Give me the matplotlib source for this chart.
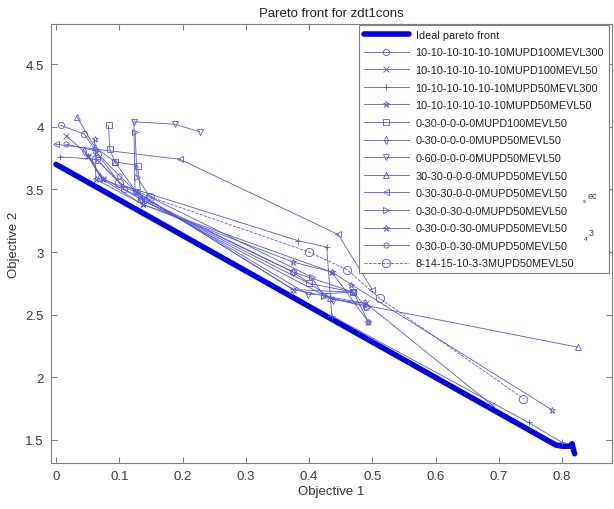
import matplotlib
matplotlib.use("Agg")
import matplotlib.pyplot as plt

plt.rcParams['font.family'] = ['Liberation Sans', 'DejaVu Sans']

# Ideal Pareto front
front_x = [0.0, 0.79, 0.80, 0.812, 0.816, 0.818, 0.82]
front_y = [3.70, 1.46, 1.45, 1.45, 1.47, 1.42, 1.39]

labels = [
    "10-10-10-10-10-10MUPD100MEVL300",
    "10-10-10-10-10-10MUPD100MEVL50",
    "10-10-10-10-10-10MUPD50MEVL300",
    "10-10-10-10-10-10MUPD50MEVL50",
    "0-30-0-0-0-0MUPD100MEVL50",
    "0-30-0-0-0-0MUPD50MEVL50",
    "0-60-0-0-0-0MUPD50MEVL50",
    "30-30-0-0-0-0MUPD50MEVL50",
    "0-30-30-0-0-0MUPD50MEVL50",
    "0-30-0-30-0-0MUPD50MEVL50",
    "0-30-0-0-30-0MUPD50MEVL50",
    "0-30-0-0-30-0MUPD50MEVL50",
    "8-14-15-10-3-3MUPD50MEVL50",
]

s0_x = [0.008, 0.045, 0.066, 0.108, 0.375, 0.47, 0.49]
s0_y = [4.01, 3.94, 3.78, 3.50, 2.84, 2.68, 2.56]
s1_x = [0.016, 0.051, 0.074, 0.127, 0.375, 0.423, 0.49, 0.689]
s1_y = [3.93, 3.77, 3.58, 3.48, 2.70, 2.65, 2.59, 1.78]
s2_x = [0.006, 0.064, 0.106, 0.383, 0.428, 0.436, 0.747, 0.80]
s2_y = [3.76, 3.74, 3.53, 3.09, 3.04, 2.49, 1.64, 1.48]
s3_x = [0.061, 0.063, 0.137, 0.375, 0.436, 0.494]
s3_y = [3.90, 3.58, 3.38, 2.92, 2.84, 2.44]
s4_x = [0.083, 0.085, 0.093, 0.129, 0.135, 0.40, 0.47]
s4_y = [4.01, 3.82, 3.72, 3.69, 3.42, 2.75, 2.68]
s5_x = [0.045, 0.07, 0.135, 0.375, 0.438, 0.488]
s5_y = [3.81, 3.60, 3.42, 2.84, 2.62, 2.59]
s6_x = [0.227, 0.188, 0.123, 0.125, 0.399, 0.47]
s6_y = [3.96, 4.02, 4.04, 3.48, 2.66, 2.68]
s7_x = [0.033, 0.061, 0.093, 0.135, 0.433, 0.825]
s7_y = [4.08, 3.84, 3.72, 3.42, 2.63, 2.24]
s8_x = [0.0, 0.196, 0.446, 0.50]
s8_y = [3.86, 3.74, 3.14, 2.70]
s9_x = [0.125, 0.128, 0.148, 0.404, 0.423, 0.491]
s9_y = [3.96, 3.60, 3.44, 2.80, 2.65, 2.56]
s10_x = [0.051, 0.074, 0.137, 0.436, 0.467, 0.784]
s10_y = [3.77, 3.58, 3.38, 2.84, 2.74, 1.74]
s11_x = [0.016, 0.061, 0.10, 0.127, 0.375, 0.47, 0.494]
s11_y = [3.86, 3.81, 3.61, 3.48, 2.70, 2.68, 2.44]
s12_x = [0.064, 0.10, 0.148, 0.40, 0.46, 0.512, 0.739]
s12_y = [3.74, 3.55, 3.44, 3.00, 2.86, 2.63, 1.83]

series = [(s0_x, s0_y), (s1_x, s1_y), (s2_x, s2_y), (s3_x, s3_y),
          (s4_x, s4_y), (s5_x, s5_y), (s6_x, s6_y), (s7_x, s7_y),
          (s8_x, s8_y), (s9_x, s9_y), (s10_x, s10_y), (s11_x, s11_y),
          (s12_x, s12_y)]
markers = ['o', 'x', '+', '*', 's', 'd', 'v', '^', '<', '>', '*', 'h', 'o']
sizes = [4.5, 4.5, 5, 4.5, 5, 4, 5, 5, 5, 5, 5, 4, 6]
styles = ['-'] * 12 + ['--']

W, H = 614, 510
fig = plt.figure(figsize=(W / 100, H / 100), dpi=100)
ax = fig.add_axes([50.7 / W, (H - 464) / H, (612 - 50.7) / W, (464 - 25) / H])

line_col = (0.34, 0.34, 0.88)
ax.plot(front_x, front_y, color=(0.0, 0.0, 0.88), lw=4,
        solid_capstyle='round', label="Ideal pareto front")
for (xs, ys), m, ms, ls, lab in zip(series, markers, sizes, styles, labels):
    ax.plot(xs, ys, linestyle=ls, marker=m, markersize=ms, color=line_col,
            lw=0.6, mfc='none', mec=line_col, mew=0.6, label=lab)

ax.set_xlim(-0.0084, 0.879)
ax.set_ylim(1.316, 4.82)
ax.set_xticks([0, 0.1, 0.2, 0.3, 0.4, 0.5, 0.6, 0.7, 0.8])
ax.set_xticklabels(['0', '0.1', '0.2', '0.3', '0.4', '0.5', '0.6', '0.7', '0.8'])
ax.set_yticks([1.5, 2, 2.5, 3, 3.5, 4, 4.5])
ax.set_yticklabels(['1.5', '2', '2.5', '3', '3.5', '4', '4.5'])

spine_col = '#7f7f7f'
for sp in ax.spines.values():
    sp.set_color(spine_col)
    sp.set_linewidth(0.8)
ax.tick_params(direction='in', top=True, right=True, length=4,
               color=spine_col, labelcolor='#3a3a3a', labelsize=9.5, pad=5)

ax.set_xlabel("Objective 1", fontsize=9.5, color='#333333', labelpad=2)
ax.set_ylabel("Objective 2", fontsize=9.5, color='#333333', labelpad=4)
ax.set_title("Pareto front for zdt1cons", fontsize=9.5, color='#222222', pad=6)

leg = ax.legend(loc='upper right', bbox_to_anchor=(609 / W, (H - 26) / H),
                bbox_transform=fig.transFigure, borderaxespad=0,
                fontsize=7.8, handlelength=4.2, handletextpad=0.6,
                labelspacing=0.70, borderpad=0.45, fancybox=False,
                framealpha=1, edgecolor=spine_col)
leg.get_frame().set_linewidth(0.8)
for t in leg.get_texts():
    t.set_color('#222222')

# stray annotation fragments drawn over the legend
fig.text(588 / W, 1 - 199 / H, "ec", fontsize=6.5, color='#333333', zorder=10)
fig.text(583 / W, 1 - 203 / H, "s", fontsize=4.5, color='#333333', zorder=10)
fig.text(589 / W, 1 - 236 / H, "3", fontsize=6.5, color='#333333', zorder=10)
fig.text(584 / W, 1 - 241 / H, "4", fontsize=4.5, color='#333333', zorder=10)

fig.savefig("out.png", dpi=100)
